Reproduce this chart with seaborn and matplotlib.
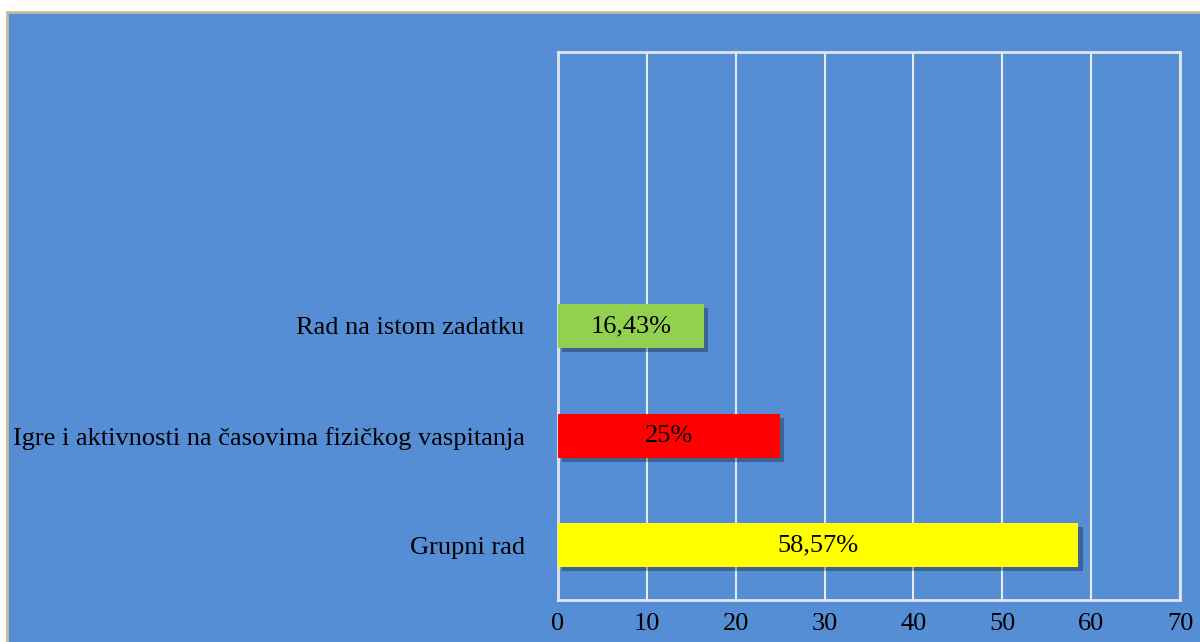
import matplotlib
matplotlib.use("Agg")
import matplotlib.pyplot as plt
import matplotlib.patheffects as pe
from matplotlib.patches import Rectangle
import pandas as pd
import seaborn as sns

# data
categories = ["Rad na istom zadatku",
              "Igre i aktivnosti na časovima fizičkog vaspitanja",
              "Grupni rad"]
values = [16.43, 25, 58.57]
value_labels = ["16,43%", "25%", "58,57%"]
bar_colors = ["#92D050", "#FF0000", "#FFFF00"]
xticks = [0, 10, 20, 30, 40, 50, 60, 70]

bg = "#558ED5"

sns.set_style("white")
plt.rcParams["font.family"] = ["Liberation Serif", "DejaVu Serif"]

df = pd.DataFrame({"kategorija": categories, "vrijednost": values})

fig = plt.figure(figsize=(12, 6.42), dpi=100)
fig.patch.set_facecolor("white")
# chart area frame (cut off at right and bottom like the original)
fig.patches.append(Rectangle((7 / 1200, -0.05), 1.1, 1 - 12 / 642 + 0.05,
                             transform=fig.transFigure, facecolor=bg,
                             edgecolor="#C8BC98", linewidth=2, zorder=-5))

ax = fig.add_axes([558 / 1200, 1 - 600 / 642, (1180 - 558) / 1200, (600 - 52) / 642])
ax.set_zorder(2)
ax.set_facecolor(bg)

sns.barplot(data=df, y="kategorija", x="vrijednost", hue="kategorija",
            palette=bar_colors, order=categories, width=0.4, legend=False,
            saturation=1, linewidth=0, ax=ax, zorder=3)

shadow = [pe.SimplePatchShadow(offset=(3, -3), shadow_rgbFace="black", alpha=0.3), pe.Normal()]
for p in ax.patches:
    p.set_path_effects(shadow)

for bars, lab in zip(ax.containers, value_labels):
    ax.bar_label(bars, labels=[lab], label_type="center", fontsize=19, color="black")

ax.set_xlim(0, 70)
ax.set_ylim(2.5, -2.5)
ax.set_xticks(xticks)
ax.set_xticklabels([str(t) for t in xticks])
ax.tick_params(axis="x", length=0, pad=9, labelsize=19, colors="black")
ax.tick_params(axis="y", length=0, pad=24, labelsize=19, colors="black")
ax.set_xlabel("")
ax.set_ylabel("")

ax.grid(axis="x", color="#E6ECF5", linewidth=1.5, zorder=1)
ax.set_axisbelow(True)
for s in ax.spines.values():
    s.set_visible(True)
    s.set_color("#E0E6F0")
    s.set_linewidth(2)

fig.savefig("out.png", dpi=100, facecolor=fig.get_facecolor())
